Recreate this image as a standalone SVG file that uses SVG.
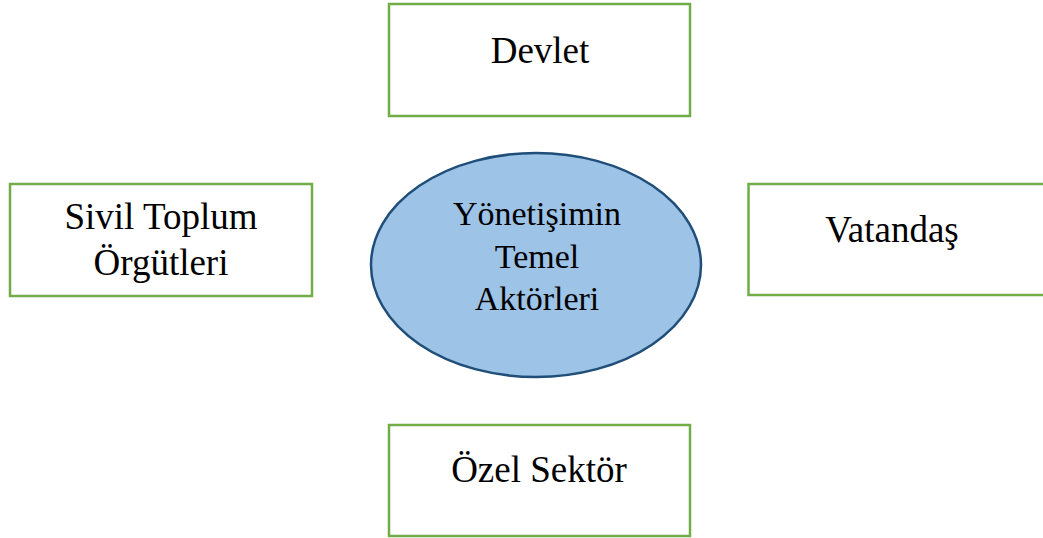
<svg xmlns="http://www.w3.org/2000/svg" width="1043" height="538" viewBox="0 0 1043 538">
  <style>
    .box { fill: #ffffff; stroke: #70AD47; stroke-width: 2.5; }
    .hub { fill: #9DC3E6; stroke: #1F4E79; stroke-width: 2.5; }
    .label { font-family: "Liberation Serif", "Times New Roman", serif; font-size: 37px; fill: #000000; text-anchor: middle; }
    .hub-label { font-family: "Liberation Serif", "Times New Roman", serif; font-size: 34px; fill: #000000; text-anchor: middle; }
  </style>
  <rect width="1043" height="538" fill="#ffffff"/>
  <g id="connectors"></g>
  <g id="node-devlet">
    <rect class="box" x="389" y="4" width="301" height="112"/>
    <text class="label" x="540" y="63">Devlet</text>
  </g>
  <g id="node-stk">
    <rect class="box" x="10" y="184" width="302" height="112"/>
    <text class="label" x="161" y="229">Sivil Toplum</text>
    <text class="label" x="161" y="275">Örgütleri</text>
  </g>
  <g id="node-vatandas">
    <rect class="box" x="748.5" y="184" width="302" height="111"/>
    <text class="label" x="892" y="242">Vatandaş</text>
  </g>
  <g id="node-ozel">
    <rect class="box" x="389" y="425" width="301" height="111"/>
    <text class="label" x="539" y="482">Özel Sektör</text>
  </g>
  <g id="node-center">
    <ellipse class="hub" cx="536" cy="265" rx="165" ry="112"/>
    <text class="hub-label" x="537" y="225">Yönetişimin</text>
    <text class="hub-label" x="537" y="268">Temel</text>
    <text class="hub-label" x="537" y="310">Aktörleri</text>
  </g>
</svg>
